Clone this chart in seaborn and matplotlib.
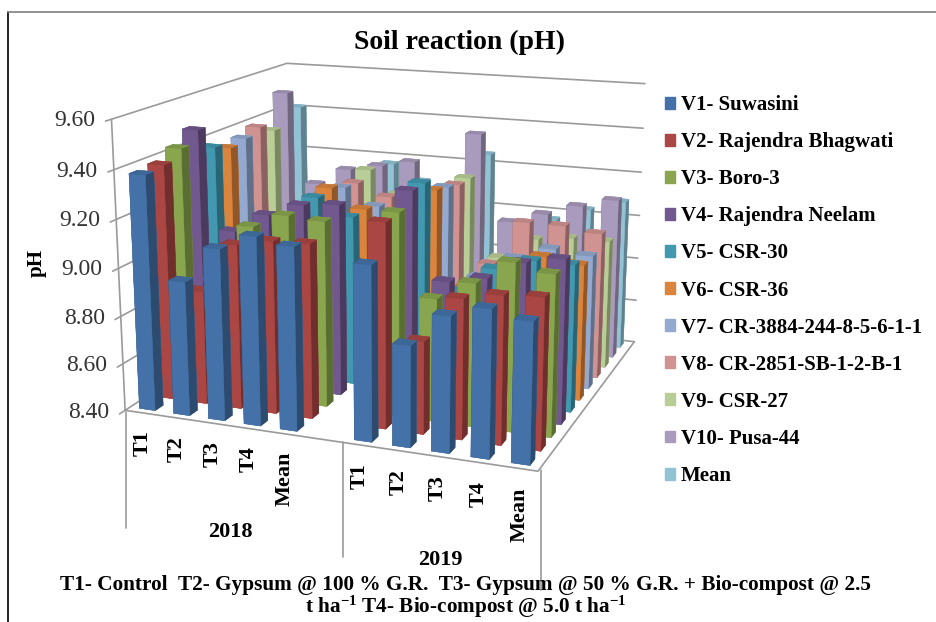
import matplotlib
matplotlib.use('Agg')
import matplotlib.pyplot as plt
import seaborn as sns
from matplotlib.lines import Line2D
from matplotlib.patches import Patch
from mpl_toolkits.mplot3d import proj3d

sns.set_theme(style='white')
plt.rcParams['font.family'] = ['Liberation Serif', 'DejaVu Serif']
plt.rcParams['font.weight'] = 'bold'
plt.rcParams['mathtext.default'] = 'regular'
plt.rcParams['text.color'] = 'black'

categories = ['T1', 'T2', 'T3', 'T4', 'Mean', '', 'T1', 'T2', 'T3', 'T4', 'Mean']
series_names = ['V1- Suwasini', 'V2- Rajendra Bhagwati', 'V3- Boro-3', 'V4- Rajendra Neelam',
                'V5- CSR-30', 'V6- CSR-36', 'V7- CR-3884-244-8-5-6-1-1', 'V8- CR-2851-SB-1-2-B-1',
                'V9- CSR-27', 'V10- Pusa-44', 'Mean']
z_ticks = [8.40, 8.60, 8.80, 9.00, 9.20, 9.40, 9.60]

v1 = [9.38, 8.96, 9.11, 9.175, 9.15, None, 9.11, 8.81, 8.945, 8.99, 8.96]
v2 = [9.39, 8.88, 9.09, 9.12, 9.125, None, 9.24, 8.78, 8.97, 9.00, 9.01]
v3 = [9.43, 8.90, 9.13, 9.19, 9.18, None, 9.245, 8.91, 8.99, 9.09, 9.06]
v4 = [9.48, 9.06, 9.145, 9.20, 9.215, None, 9.30, 8.94, 8.97, 9.05, 9.08]
v5 = [9.38, 8.95, 9.06, 9.20, 9.13, None, 9.30, 8.86, 8.97, 9.02, 9.02]
v6 = [9.35, 8.92, 9.06, 9.21, 9.13, None, 9.24, 8.84, 8.92, 9.00, 8.98]
v7 = [9.365, 8.95, 9.08, 9.18, 9.11, None, 9.22, 8.84, 8.94, 8.995, 8.98]
v8 = [9.39, 8.95, 9.10, 9.17, 9.12, None, 9.20, 8.86, 9.06, 9.06, 9.04]
v9 = [9.35, 8.95, 9.08, 9.20, 9.10, None, 9.20, 8.85, 8.95, 8.97, 8.97]
v10 = [9.50, 9.08, 9.16, 9.19, 9.22, None, 9.37, 8.98, 9.03, 9.08, 9.12]
mean_row = [9.41, 8.96, 9.05, 9.17, 9.10, None, 9.25, 8.93, 8.97, 9.03, 9.08]
all_rows = [v1, v2, v3, v4, v5, v6, v7, v8, v9, v10, mean_row]

bar_colors = sns.color_palette(['#4472A8', '#AA4643', '#89A54E', '#71588F', '#4198AF', '#DB843D',
                                '#93A9CF', '#D19392', '#B9CD96', '#A99BBD', '#91C3D5'])
line_color = '#9a9a9a'
base = 8.40
n_cat = len(categories)
n_ser = len(series_names)


def shades(c):
    side = tuple(v * 0.66 for v in c)
    top = tuple(v * 0.9 for v in c)
    return [top, top, c, c, side, side]


fig = plt.figure(figsize=(9.36, 6.22), dpi=100)
ax = fig.add_axes([-15 / 936, -29 / 622, 800 / 936, 800 / 622], projection='3d')
ax.patch.set_alpha(0)
ax.computed_zorder = False
ax.set_proj_type('persp', focal_length=0.36)
ax.view_init(elev=14.7, azim=-69)
ax.set_box_aspect((0.95, 0.88, 0.655), zoom=0.76)
ax.set_xlim(0, n_cat)
ax.set_ylim(0, n_ser)
ax.set_zlim(base, 9.60)
ax.set_axis_off()


def label_3d(x, y, z, s, **kw):
    # 3d text keeps unprojected coords, so place a normal annotation on the projected point
    px, py, _ = proj3d.proj_transform(x, y, z, ax.get_proj())
    ax.annotate(s, xy=(px, py), xycoords='data', annotation_clip=False, zorder=500, **kw)


# walls and floor
for t in z_ticks:
    ax.plot([0, 0, n_cat], [-0.3, n_ser, n_ser], [t, t, t], color=line_color, lw=1.2, zorder=1)
ax.plot([0, 0], [0, 0], [base, 9.60], color=line_color, lw=1.2, zorder=1)
ax.plot([0, n_cat, n_cat], [0, 0, n_ser], [base, base, base], color=line_color, lw=1.2, zorder=1)

# painted far to near so the tall bars overlap properly
order = 2
for s in range(n_ser - 1, -1, -1):
    for c in range(n_cat):
        val = all_rows[s][c]
        if val is None:
            continue
        faces = shades(bar_colors[s])
        ax.bar3d(c + 0.27, s + 0.28, base, 0.46, 0.45, val - base, color=faces, edgecolors=faces,
                 linewidth=0.3, shade=False, zorder=order)
        order += 1

for t in z_ticks:
    label_3d(-0.3, -0.3, t, f'{t:.2f}', ha='right', va='center', fontsize=17, fontweight='normal', color='#333333')
for c, lab in enumerate(categories):
    if lab:
        label_3d(c + 0.62, -0.25, base - 0.06, lab, rotation=90, ha='center', va='top', fontsize=16)

fig.text(230 / 936, 1 - 532 / 622, '2018', ha='center', va='center', fontsize=16)
fig.text(440 / 936, 1 - 560 / 622, '2019', ha='center', va='center', fontsize=16)
for x0, y0, y1 in [(126, 412, 528), (343, 442, 557), (541, 470, 590)]:
    fig.add_artist(Line2D([x0 / 936, x0 / 936], [1 - y0 / 622, 1 - y1 / 622], color=line_color, lw=1.2))

fig.text(460 / 936, 1 - 42 / 622, 'Soil reaction (pH)', ha='center', va='center', fontsize=20)
fig.text(37 / 936, 1 - 263 / 622, 'pH', rotation=90, ha='center', va='center', fontsize=15)
fig.text(466 / 936, 1 - 585 / 622, 'T1- Control  T2- Gypsum @ 100 % G.R.  T3- Gypsum @ 50 % G.R. + Bio-compost @ 2.5',
         ha='center', va='center', fontsize=15.3)
fig.text(466 / 936, 1 - 607 / 622, 't ha$^{-1}$ T4- Bio-compost @ 5.0 t ha$^{-1}$', ha='center', va='center', fontsize=15.3)

handles = [Patch(color=col, label=n) for col, n in zip(bar_colors, series_names)]
fig.legend(handles=handles, loc='upper left', bbox_to_anchor=(665 / 936, 0.847), frameon=False,
           fontsize=15, handlelength=0.5, handleheight=0.5, handletextpad=0.25, labelspacing=0.82,
           borderpad=0, borderaxespad=0)

fig.add_artist(Line2D([8 / 936, 8 / 936], [0, 1 - 12 / 622], color='black', lw=1.2))
fig.add_artist(Line2D([8 / 936, 1], [1 - 12 / 622, 1 - 12 / 622], color='#808080', lw=1.2))
fig.savefig('out.png', dpi=100)
